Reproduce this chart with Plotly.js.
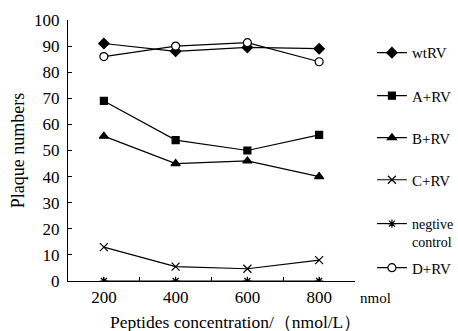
<!DOCTYPE html>
<html><head><meta charset="utf-8">
<script src="https://cdn.plot.ly/plotly-3.0.1.min.js"></script>
<style>body{margin:0;padding:0;background:#fff}#chart{width:458px;height:331px}</style>
</head><body><div id="chart"></div>
<script>
const concentrations = [200, 400, 600, 800];
const wtRV = [91, 88, 89.5, 89];
const A_RV = [69, 54, 50, 56];
const B_RV = [55.5, 45, 46, 40];
const C_RV = [13, 5.5, 4.7, 8];
const negControl = [0, 0, 0, 0];
const D_RV = [86, 90, 91.3, 84];
const seriesNames = ['wtRV', 'A+RV', 'B+RV', 'C+RV', 'negtive<br>control', 'D+RV'];
const xTickVals = [100, 200, 300, 400, 500, 600, 700, 800, 900];
const xTickText = ['', '200', '', '400', '', '600', '', '800', ''];
const xTitle = 'Peptides concentration/（nmol/L）';
const yTitle = 'Plaque numbers';
const unitLabel = 'nmol';

const fam = 'Liberation Serif, Times New Roman, Times, serif';
const F = (s) => ({family: fam, size: s, color: '#000'});
const legendNames = ['legend', 'legend2', 'legend3', 'legend4', 'legend5', 'legend6'];
function tr(y, i, symbol, size) {
  return {x: concentrations, y: y, name: seriesNames[i], type: 'scatter', mode: 'lines+markers',
    line: {color: '#000', width: 1.2},
    marker: {symbol: symbol, size: size, color: '#000', line: {color: '#000', width: 1.2}},
    legend: legendNames[i]};
}
const data = [
  tr(wtRV, 0, 'diamond', 8),
  tr(A_RV, 1, 'square', 7),
  tr(B_RV, 2, 'triangle-up', 8),
  tr(C_RV, 3, 'x-thin-open', 8),
  tr(negControl, 4, 'asterisk-open', 7),
  tr(D_RV, 5, 'circle', 8)
];
data[5].marker.color = '#fff';

const lx = 1.059;
function lg(y, size, valign) {
  return {x: lx, xanchor: 'left', y: y, yanchor: 'middle', font: F(size), itemwidth: 30,
    bgcolor: 'rgba(0,0,0,0)', borderwidth: 0, valign: valign || 'middle'};
}
const layout = {
  width: 458, height: 331,
  margin: {l: 68, r: 103, t: 20, b: 50, autoexpand: false},
  paper_bgcolor: '#fff', plot_bgcolor: '#fff',
  font: F(15),
  showlegend: true,
  legend: lg(0.874, 15), legend2: lg(0.709, 15), legend3: lg(0.548, 15), legend4: lg(0.387, 15),
  legend5: lg(0.184, 14, 'top'), legend6: lg(0.050, 15),
  xaxis: {range: [100, 900], tickvals: xTickVals, ticktext: xTickText,
    ticks: 'inside', ticklen: 4, tickcolor: '#000', showgrid: false, zeroline: false,
    showline: true, linecolor: '#000', linewidth: 1.2,
    tickfont: F(17)},
  yaxis: {range: [0, 100], dtick: 10, tick0: 0,
    ticks: 'inside', ticklen: 4, tickcolor: '#000', showgrid: false, zeroline: false,
    showline: true, linecolor: '#000', linewidth: 1.2, ticklabelstandoff: 4,
    tickfont: F(17),
    title: {text: yTitle, font: F(18), standoff: 4}},
  annotations: [
    {text: unitLabel, xref: 'paper', yref: 'paper', x: 1.01, y: -0.065, xanchor: 'left', yanchor: 'middle',
      showarrow: false, font: F(15)},
    {text: xTitle, xref: 'paper', yref: 'paper', x: 0.582, y: -0.157, xanchor: 'center', yanchor: 'middle',
      showarrow: false, font: F(17.5)}
  ]
};
Plotly.newPlot('chart', data, layout, {displayModeBar: false, staticPlot: true});
</script></body></html>
